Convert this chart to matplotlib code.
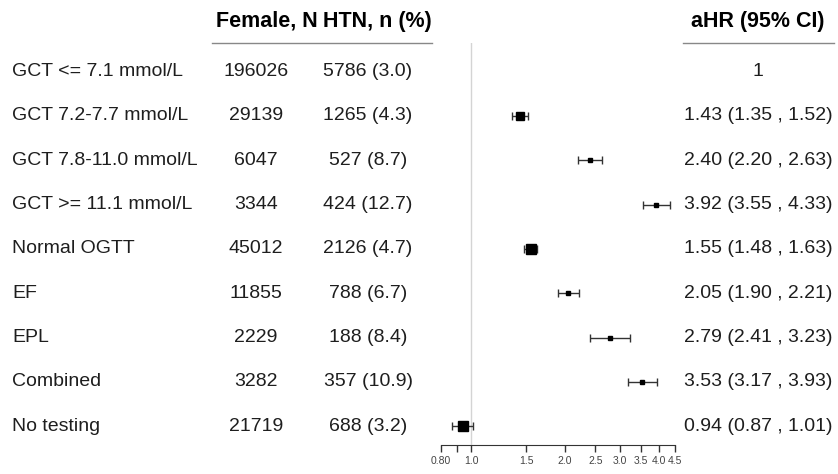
import numpy as np
import matplotlib.pyplot as plt
from matplotlib.lines import Line2D
from matplotlib.ticker import NullLocator
from matplotlib.transforms import blended_transform_factory

plt.rcParams['font.family'] = ['Liberation Sans', 'DejaVu Sans']

# data
labels = ['GCT <= 7.1 mmol/L', 'GCT 7.2-7.7 mmol/L', 'GCT 7.8-11.0 mmol/L',
          'GCT >= 11.1 mmol/L', 'Normal OGTT', 'EF', 'EPL', 'Combined', 'No testing']
female_n = [196026, 29139, 6047, 3344, 45012, 11855, 2229, 3282, 21719]
htn_n = [5786, 1265, 527, 424, 2126, 788, 188, 357, 688]
htn_pct = [3.0, 4.3, 8.7, 12.7, 4.7, 6.7, 8.4, 10.9, 3.2]
ahr = [1, 1.43, 2.40, 3.92, 1.55, 2.05, 2.79, 3.53, 0.94]
ci_lo = [np.nan, 1.35, 2.20, 3.55, 1.48, 1.90, 2.41, 3.17, 0.87]
ci_hi = [np.nan, 1.52, 2.63, 4.33, 1.63, 2.21, 3.23, 3.93, 1.01]
xticks = [0.8, 0.9, 1.0, 1.5, 2.0, 2.5, 3.0, 3.5, 4.0, 4.5]
xticklabels = ['0.80', '', '1.0', '1.5', '2.0', '2.5', '3.0', '3.5', '4.0', '4.5']

W, H = 838, 474
fig = plt.figure(figsize=(W / 100, H / 100), dpi=100)

# forest panel (pixel layout -> figure fractions)
ax = fig.add_axes([441 / W, (H - 445) / H, (675 - 441) / W, (445 - 43) / H])
ax.set_xscale('log')
ax.set_xlim(0.8, 4.5)
ax.set_ylim(8.42, -0.64)
ax.patch.set_alpha(0)

ax.axvline(1.0, color='#d4d4d4', lw=1, zorder=0)

for i in range(len(labels)):
    if np.isnan(ci_lo[i]):
        continue
    ms = max(3.2, 1.0 / (ci_hi[i] - ci_lo[i]))
    ax.errorbar(ahr[i], i, xerr=[[ahr[i] - ci_lo[i]], [ci_hi[i] - ahr[i]]],
                fmt='none', ecolor='#333333', elinewidth=1, capsize=3, capthick=1)
    ax.plot(ahr[i], i, marker='s', color='black', ms=ms, ls='none')

for s in ['left', 'right', 'top']:
    ax.spines[s].set_visible(False)
ax.spines['bottom'].set_bounds(0.8, 4.5)
ax.spines['bottom'].set_color('#333333')
ax.set_yticks([])
ax.set_xticks(xticks)
ax.set_xticklabels(xticklabels)
ax.xaxis.set_minor_locator(NullLocator())
ax.tick_params(axis='x', length=5, width=1, color='#333333', labelsize=7.5,
               labelcolor='#444444', pad=3)

# text columns
tr = blended_transform_factory(fig.transFigure, ax.transData)
body = dict(fontsize=14, color='#1e1e1e', va='center', transform=tr)
head = dict(fontsize=15.5, fontweight='bold', color='black', va='center',
            ha='center', transform=tr)

hy = -0.64 - (43 - 21) / 44.4
fig.text(267 / W, hy, 'Female, N', **head)
fig.text(377 / W, hy, 'HTN, n (%)', **head)
fig.text(758 / W, hy, 'aHR (95% CI)', **head)

for i, lab in enumerate(labels):
    fig.text(12 / W, i, lab, ha='left', **body)
    fig.text(256 / W, i, str(female_n[i]), ha='center', **body)
    fig.text(368 / W, i, f'{htn_n[i]} ({htn_pct[i]:.1f})', ha='center', **body)
    if np.isnan(ci_lo[i]):
        s = f'{ahr[i]:g}'
    else:
        s = f'{ahr[i]:.2f} ({ci_lo[i]:.2f} , {ci_hi[i]:.2f})'
    fig.text(758 / W, i, s, ha='center', **body)

# header underlines
uy = (H - 43) / H
fig.add_artist(Line2D([212 / W, 432 / W], [uy, uy], color='#888888', lw=1))
fig.add_artist(Line2D([683 / W, 834 / W], [uy, uy], color='#888888', lw=1))

fig.savefig('out.png', dpi=100)
